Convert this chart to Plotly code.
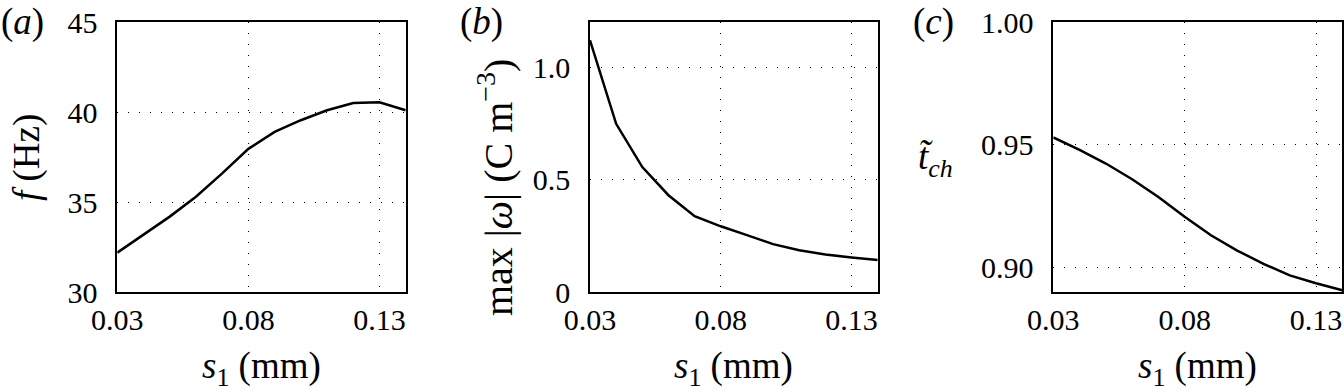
import plotly.graph_objects as go

s1 = [0.03, 0.04, 0.05, 0.06, 0.07, 0.08, 0.09, 0.10, 0.11, 0.12, 0.13, 0.14]
f_hz = [32.2, 33.2, 34.2, 35.3, 36.6, 37.96, 38.9, 39.55, 40.1, 40.5, 40.55, 40.1]
max_omega = [1.119, 0.748, 0.556, 0.431, 0.338, 0.293, 0.254, 0.214, 0.187, 0.168, 0.155, 0.143]
t_ch = [0.953, 0.948, 0.9424, 0.936, 0.9288, 0.9207, 0.9132, 0.907, 0.9016, 0.8969, 0.8937, 0.8908]

x_ticks = [0.03, 0.08, 0.13]
x_ticktext = ["0.03", "0.08", "0.13"]
ya_ticks = [30, 35, 40, 45]
ya_text = ["30", "35", "40", "45"]
yb_ticks = [0, 0.5, 1.0]
yb_text = ["0", "0.5", "1.0"]
yc_ticks = [0.90, 0.95, 1.00]
yc_text = ["0.90", "0.95", "1.00"]

W, H = 1344, 389
FONT = "Liberation Serif, Times New Roman, serif"
TICK = 30
TITLE = 37

def px(x):
    return x / W

def py(y):
    return (H - y) / H

ydom = [py(292.3), py(22)]
xdoms = [[px(117.3), px(405.7)], [px(590), px(877.7)], [px(1053.3), px(1342.3)]]

fig = go.Figure()
series = [f_hz, max_omega, t_ch]
for i, ys in enumerate(series):
    sfx = "" if i == 0 else str(i + 1)
    fig.add_trace(go.Scatter(x=s1, y=ys, mode="lines",
                             line=dict(color="black", width=2.5),
                             xaxis="x" + sfx, yaxis="y" + sfx, showlegend=False))

yranges = [[30, 45], [0, 1.2], [0.89, 1.00]]
yticks = [(ya_ticks, ya_text), (yb_ticks, yb_text), (yc_ticks, yc_text)]

common = dict(showline=True, linecolor="black", linewidth=1.5, mirror=True,
              showgrid=True, gridcolor="black", gridwidth=1, griddash="1px,10px",
              zeroline=False, ticks="", automargin=False,
              tickfont=dict(family=FONT, size=TICK, color="black"))

layout = dict(width=W, height=H, margin=dict(l=0, r=0, t=0, b=0, pad=0, autoexpand=False),
              paper_bgcolor="white", plot_bgcolor="white", showlegend=False,
              font=dict(family=FONT, size=TICK, color="black"))
for i in range(3):
    sfx = "" if i == 0 else str(i + 1)
    layout["xaxis" + sfx] = dict(domain=xdoms[i], range=[0.03, 0.14], anchor="y" + sfx,
                                 tickvals=x_ticks, ticktext=x_ticktext,
                                 ticklabelstandoff=0, **common)
    layout["yaxis" + sfx] = dict(domain=ydom, range=yranges[i], anchor="x" + sfx,
                                 tickvals=yticks[i][0], ticktext=yticks[i][1],
                                 ticklabelstandoff=12, **common)
fig.update_layout(**layout)

tf = dict(family=FONT, size=TITLE, color="black")
ann = []
for i in range(3):
    cx = (xdoms[i][0] + xdoms[i][1]) / 2
    ann.append(dict(x=cx, y=py(368), xref="paper", yref="paper", text="<i>s</i><sub>1</sub> (mm)",
                    showarrow=False, font=tf, xanchor="center", yanchor="middle"))
ann.append(dict(x=px(27), y=py(158), xref="paper", yref="paper", text="<i>f</i> (Hz)",
                textangle=-90, showarrow=False, font=tf, xanchor="center", yanchor="middle"))
ann.append(dict(x=px(495), y=py(188), xref="paper", yref="paper",
                text="max |<i>ω</i>| (C m<sup>−3</sup>)",
                textangle=-90, showarrow=False, font=dict(family=FONT, size=40, color="black"),
                xanchor="center", yanchor="middle"))
ann.append(dict(x=px(935), y=py(160), xref="paper", yref="paper",
                text="<i>t̃</i><sub><i>ch</i></sub>",
                showarrow=False, font=tf, xanchor="center", yanchor="middle"))
for lbl, x in [("a", 22), ("b", 481), ("c", 933)]:
    ann.append(dict(x=px(x), y=py(22), xref="paper", yref="paper", text="(<i>%s</i>)" % lbl,
                    showarrow=False, font=tf, xanchor="center", yanchor="middle"))
fig.update_layout(annotations=ann)

fig.write_html("out.html", config={"displayModeBar": False},
               post_script="document.body.style.margin='0';document.body.style.overflow='hidden';")
